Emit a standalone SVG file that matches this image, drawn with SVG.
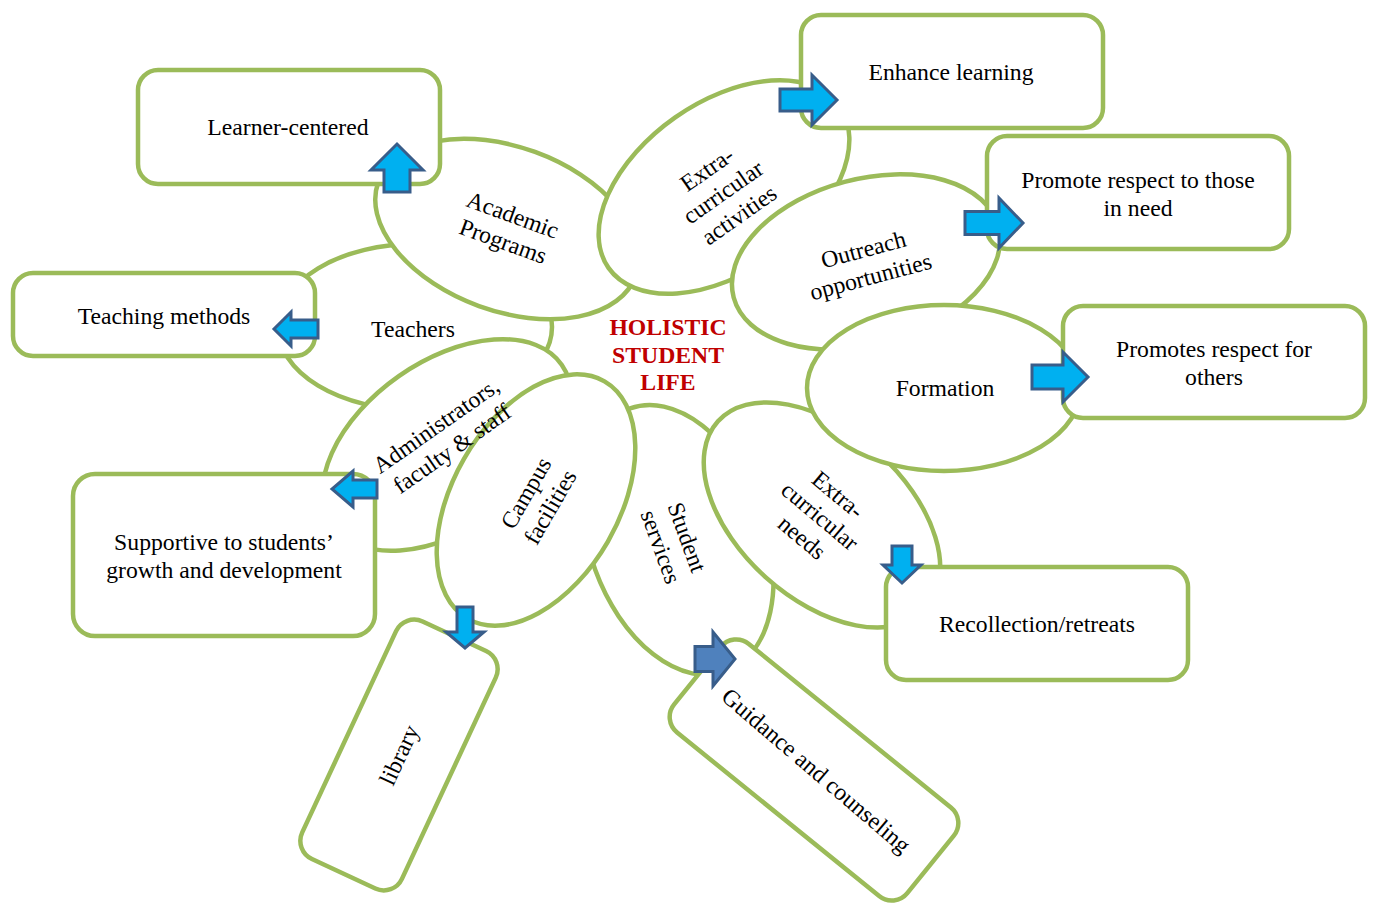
<svg xmlns="http://www.w3.org/2000/svg" width="1373" height="911" viewBox="0 0 1373 911">
<style>
.el{fill:#fff;stroke:#9bbb59;stroke-width:4.5}
.bx{fill:#fff;stroke:#9bbb59;stroke-width:4.5}
.t{font-family:"Liberation Serif","Times New Roman",serif;font-size:23.7px;fill:#000;text-anchor:middle}
.c{font-family:"Liberation Serif","Times New Roman",serif;font-size:23.7px;font-weight:bold;fill:#c00000;text-anchor:middle}
.ar{fill:#00b0f0;stroke:#385d8a;stroke-width:3;stroke-linejoin:miter}
.ar2{fill:#4f81bd;stroke:#385d8a;stroke-width:3}
</style>
<rect width="1373" height="911" fill="#fff"/>
<g id="ellipse-shapes">
<ellipse id="teachers-shape" class="el" cx="415" cy="327" rx="137" ry="83"/>
<ellipse id="academic-shape" class="el" cx="0" cy="0" rx="137" ry="82" transform="translate(507,229) rotate(20)"/>
<ellipse id="extra-activities-shape" class="el" cx="0" cy="0" rx="141" ry="85" transform="translate(724,187) rotate(-35)"/>
<ellipse id="outreach-shape" class="el" cx="0" cy="0" rx="137" ry="83" transform="translate(866,262) rotate(-15)"/>
<ellipse id="student-services-shape" class="el" cx="0" cy="0" rx="140" ry="88" transform="translate(678,540) rotate(70)"/>
<ellipse id="extra-needs-shape" class="el" cx="0" cy="0" rx="140" ry="84" transform="translate(822,515) rotate(42)"/>
<ellipse id="formation-shape" class="el" cx="944" cy="388" rx="137" ry="83"/>
<ellipse id="administrators-shape" class="el" cx="0" cy="0" rx="140" ry="84" transform="translate(447,445) rotate(-35)"/>
<ellipse id="campus-shape" class="el" cx="0" cy="0" rx="137" ry="83" transform="translate(536,500) rotate(-60)"/>
</g>
<g id="ellipse-labels">
<g id="teachers"><text class="t" x="413" y="337">Teachers</text></g>
<g id="academic" transform="translate(508,228) rotate(20)"><text class="t" x="0" y="-6">Academic</text><text class="t" x="0" y="22">Programs</text></g>
<g id="extra-activities" transform="translate(723,192) rotate(-35)"><text class="t" x="0" y="-20">Extra-</text><text class="t" x="0" y="8">curricular</text><text class="t" x="0" y="36">activities</text></g>
<g id="outreach" transform="translate(867,263) rotate(-15)"><text class="t" x="0" y="-6">Outreach</text><text class="t" x="0" y="22">opportunities</text></g>
<g id="student-services" transform="translate(674,542) rotate(70)"><text class="t" x="0" y="-6">Student</text><text class="t" x="0" y="22">services</text></g>
<g id="extra-needs" transform="translate(820,516) rotate(40)"><text class="t" x="0" y="-20">Extra-</text><text class="t" x="0" y="8">curricular</text><text class="t" x="0" y="36">needs</text></g>
<g id="formation"><text class="t" x="945" y="396">Formation</text></g>
<g id="administrators" transform="translate(444,437) rotate(-35)"><text class="t" x="0" y="-6">Administrators,</text><text class="t" x="0" y="22">faculty &amp; staff</text></g>
<g id="campus" transform="translate(538,500) rotate(-60)"><text class="t" x="0" y="-6">Campus</text><text class="t" x="0" y="22">facilities</text></g>
<g id="center"><text class="c" x="668" y="335">HOLISTIC</text><text class="c" x="668" y="363">STUDENT</text><text class="c" x="668" y="390">LIFE</text></g>
</g>
<g id="box-learner"><rect class="bx" x="138" y="70" width="302" height="114" rx="20"/><text class="t" x="288" y="135">Learner-centered</text></g>
<g id="box-enhance"><rect class="bx" x="801" y="15" width="302" height="113" rx="20"/><text class="t" x="951" y="80">Enhance learning</text></g>
<g id="box-promote"><rect class="bx" x="987" y="136" width="302" height="113" rx="20"/><text class="t" x="1138" y="188">Promote respect to those</text><text class="t" x="1138" y="216">in need</text></g>
<g id="box-promotes"><rect class="bx" x="1063" y="306" width="302" height="112" rx="20"/><text class="t" x="1214" y="357">Promotes respect for</text><text class="t" x="1214" y="385">others</text></g>
<g id="box-teaching"><rect class="bx" x="13" y="273" width="302" height="83" rx="20"/><text class="t" x="164" y="324">Teaching methods</text></g>
<g id="box-supportive"><rect class="bx" x="73" y="474" width="302" height="162" rx="22"/><text class="t" x="224" y="550">Supportive to students’</text><text class="t" x="224" y="578">growth and development</text></g>
<g id="box-recollection"><rect class="bx" x="886" y="567" width="302" height="113" rx="20"/><text class="t" x="1037" y="632">Recollection/retreats</text></g>
<g id="box-library" transform="translate(399,755) rotate(-65)"><rect class="bx" x="-131" y="-55" width="262" height="110" rx="20"/><text class="t" x="0" y="8">library</text></g>
<g id="box-guidance" transform="translate(814,770) rotate(39)"><rect class="bx" x="-150" y="-57" width="300" height="114" rx="20"/><text class="t" x="2" y="7" transform="rotate(1.5)">Guidance and counseling</text></g>
<g id="connectors">
<path class="ar" d="M780,89 H812 V75 L837,100 L812,125 V111 H780 Z"/>
<path class="ar" d="M965,211.5 H999 V198 L1023,223 L999,248 V234.5 H965 Z"/>
<path class="ar" d="M1032,365 H1063 V352 L1088,377 L1063,402 V389 H1032 Z"/>
<path class="ar" d="M384,192 V170 H371 L397,144 L423,170 H410 V192 Z"/>
<path class="ar" d="M318,320 H291 V312 L274,329 L291,346 V338 H318 Z"/>
<path class="ar" d="M377,480 H353 V471 L332,489 L353,507 V498 H377 Z"/>
<path class="ar" d="M457,607 H473 V632 H484 L465,648 L446,632 H457 Z"/>
<path class="ar" d="M892,546 H912 V565 H921 L902,583 L883,565 H892 Z"/>
<path class="ar2" d="M695,646.5 H713 V632 L735,659 L713,686 V671.5 H695 Z"/>
</g>
</svg>
